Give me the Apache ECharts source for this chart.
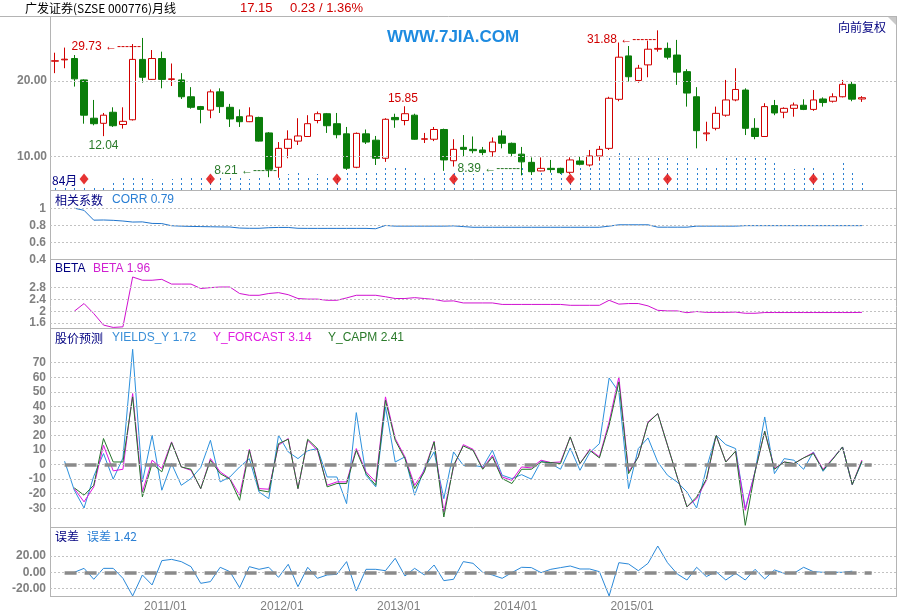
<!DOCTYPE html>
<html><head><meta charset="utf-8">
<script src="https://cdn.jsdelivr.net/npm/echarts@6/dist/echarts.min.js"></script>
<style>html,body{margin:0;padding:0;background:#fff}#c{width:900px;height:614px}</style>
</head><body><div id="c"></div>
<script>
// ---------------- DATA ----------------
const CATEGORIES = [
 '2010/02','2010/03','2010/04','2010/05','2010/06','2010/07','2010/08','2010/09','2010/10','2010/11','2010/12',
 '2011/01','2011/02','2011/03','2011/04','2011/05','2011/06','2011/07','2011/08','2011/09','2011/10','2011/11','2011/12',
 '2012/01','2012/02','2012/03','2012/04','2012/05','2012/06','2012/07','2012/08','2012/09','2012/10','2012/11','2012/12',
 '2013/01','2013/02','2013/03','2013/04','2013/05','2013/06','2013/07','2013/08','2013/09','2013/10','2013/11','2013/12',
 '2014/01','2014/02','2014/03','2014/04','2014/05','2014/06','2014/07','2014/08','2014/09','2014/10','2014/11','2014/12',
 '2015/01','2015/02','2015/03','2015/04','2015/05','2015/06','2015/07','2015/08','2015/09','2015/10','2015/11','2015/12',
 '2016/01','2016/02','2016/03','2016/04','2016/05','2016/06','2016/07','2016/08','2016/09','2016/10','2016/11','2016/12',
 '2017/01','2017/02','2017/03','2017/04'
];
const X_TICK_LABELS = ['2011/01','2012/01','2013/01','2014/01','2015/01'];

// monthly candles: [open, close, low, high]
const CANDLES = [
 [24.0,24.1,21.5,25.95],[24.3,24.45,22.5,27.2],[24.6,20.4,19.0,25.4],[20.2,14.6,13.5,20.3],
 [14.2,13.5,13.3,16.8],[13.55,14.6,12.04,14.9],[15.0,13.25,13.1,15.7],[13.4,13.8,12.9,15.7],
 [14.0,24.4,13.9,28.1],[24.4,20.7,19.7,29.73],[20.3,24.6,20.2,26.6],[24.6,20.3,18.7,26.2],
 [20.3,20.4,19.1,23.5],[20.2,17.3,16.95,21.5],[17.3,15.7,15.5,18.9],[15.8,15.4,13.55,15.9],
 [15.3,18.1,14.2,18.5],[18.1,15.8,14.9,18.7],[15.7,14.1,13.1,16.2],[14.4,13.75,13.1,15.4],
 [13.75,14.5,13.7,15.7],[14.3,11.5,11.45,14.4],[12.4,8.87,8.25,12.5],[9.04,10.76,8.21,11.4],
 [10.76,11.7,9.82,12.7],[11.5,12.06,11.1,14.2],[12.0,13.5,11.95,14.6],[13.9,14.8,13.55,15.1],
 [14.8,13.25,12.4,14.9],[13.5,12.2,11.8,14.9],[12.3,8.96,8.82,13.1],[9.04,12.35,8.96,12.45],
 [12.3,11.4,11.2,12.8],[11.6,9.82,9.23,12.06],[9.82,14.06,9.5,14.2],[14.3,14.0,13.0,14.8],
 [13.9,14.8,13.3,15.85],[14.6,11.7,11.65,14.8],[11.7,11.75,11.3,12.4],[11.7,12.8,11.5,13.1],
 [12.8,9.67,8.75,12.9],[9.6,10.66,9.1,11.7],[10.86,10.66,9.97,12.16],[10.66,10.53,10.28,12.0],
 [10.6,10.35,10.1,10.9],[10.43,11.4,9.97,11.9],[12.06,11.27,10.76,12.7],[11.27,10.28,10.03,11.35],
 [10.2,9.5,8.39,10.9],[9.46,8.68,8.42,9.9],[8.74,8.95,8.7,9.9],[8.95,8.85,8.6,9.67],
 [8.95,8.6,8.5,9.0],[8.63,9.67,8.5,9.9],[9.58,9.29,9.2,9.95],[9.23,10.03,9.1,10.6],
 [10.03,10.66,9.6,11.0],[10.76,17.06,10.6,17.3],[16.9,24.9,16.6,28.5],[25.2,20.8,19.9,27.6],
 [20.1,22.5,19.7,23.2],[23.2,26.8,20.7,29.0],[26.8,27.0,26.2,31.88],[27.0,24.9,24.4,28.5],
 [25.4,21.7,19.3,29.2],[21.8,17.9,15.8,22.3],[17.3,12.66,10.76,18.9],[12.3,12.4,11.5,13.75],
 [12.94,14.85,12.7,15.8],[14.6,16.8,14.4,20.2],[16.8,18.5,16.6,22.5],[18.4,12.94,12.16,18.7],
 [12.94,12.0,11.7,14.2],[12.0,15.8,11.95,16.3],[15.95,14.9,14.6,16.8],[15.0,15.55,14.2,15.7],
 [15.55,16.03,14.4,16.4],[16.0,15.4,15.3,16.9],[15.4,16.8,15.2,18.4],[16.95,16.4,15.8,17.2],
 [16.6,17.3,16.4,17.86],[17.3,19.4,17.2,20.2],[19.4,16.92,16.6,19.9],[16.95,17.15,16.5,17.4]
];
const PRICE_TICKS = [20, 10];

// volume (relative units)
const VOLUME = [4,5,4,5,5,5,8,12,14,13,11,9,11,12,13,12,13,14,13,12,11,13,10,14,16,17,15,16,14,13,
 18,20,18,17,25,24,22,20,14,18,17,17,18,16,17,17,19,19,25,17,20,19,18,15,25,25,32,32,39,33,
 33,33,33,32,30,33,25,24,23,33,33,33,33,32,27,20,21,22,23,18,18,27,19,10];

// signal markers (month indices)
const SIGNAL_IDX = [3,16,29,41,53,63,78];

// high / low annotations
const NOTE_IDX  = [9, 5, 23, 36, 48, 62];
const NOTE_VAL  = [29.73, 12.04, 8.21, 15.85, 8.39, 31.88];
const NOTE_KIND = ['high','low','low','high','low','high'];

const CORR = [null,null,1.0,0.975,0.86,0.862,0.858,0.85,0.838,0.84,0.822,0.82,0.795,0.79,0.787,0.785,0.783,0.781,0.78,0.768,
 0.765,0.765,0.772,0.775,0.775,0.765,0.764,0.764,0.764,0.764,0.764,0.764,0.764,0.76,0.798,0.79,0.79,0.79,0.79,0.79,
 0.79,0.793,0.785,0.777,0.777,0.777,0.777,0.777,0.777,0.777,0.777,0.777,0.777,0.777,0.777,0.777,0.777,0.79,0.806,0.806,
 0.806,0.806,0.778,0.778,0.778,0.778,0.79,0.79,0.79,0.79,0.79,0.796,0.796,0.796,0.796,0.796,0.796,0.796,0.796,0.796,
 0.796,0.796,0.796,0.796];
const CORR_TICKS = [1, 0.8, 0.6, 0.4];

const BETA = [null,null,2.0,2.26,1.92,1.53,1.45,1.47,3.16,3.05,3.05,3.08,2.92,2.92,2.92,2.77,2.8,2.82,2.82,2.6,
 2.54,2.54,2.6,2.63,2.56,2.43,2.41,2.41,2.37,2.37,2.45,2.54,2.54,2.54,2.49,2.43,2.43,2.46,2.43,2.40,
 2.34,2.35,2.28,2.28,2.28,2.28,2.23,2.23,2.23,2.23,2.23,2.23,2.23,2.2,2.2,2.2,2.2,2.37,2.24,2.26,
 2.26,2.18,2.03,2.01,2.01,1.95,1.99,1.96,1.96,1.96,1.97,1.93,1.93,1.955,1.955,1.955,1.955,1.955,1.955,1.955,
 1.955,1.955,1.955,1.96];
const BETA_TICKS = [2.8, 2.4, 2, 1.6];

const YIELDS_Y = [null,2.3,-17.6,-29.8,-8,7.6,-10,4.5,79.2,-11.9,20.1,-17.6,0.7,-14.2,-9.6,-2,16.7,-11.9,-8.5,-1.6,
 4.1,-18.8,-23.4,20.1,8.7,4.1,9.5,11,-8.5,-8.5,-26.8,35.7,-7.3,-15.3,39.6,1.8,5.3,-21,-2.7,8.7,
 -23.4,8.7,-0.5,-0.5,-1.6,9.8,-7.3,-9.6,-6.9,-10,2.3,0.7,-3.2,11.4,-3.9,8.2,14.4,59.5,49.9,-16.5,
 11,18.3,1.8,-7.3,-12,-18.8,-29.8,-2.7,20.1,13.7,11,-30.2,-5,32.7,-6.2,4.1,3,-3.2,8.7,-4.6,
 4.1,12.1,-13.7,1.72];
const Y_FORCAST = [null,null,-16.5,-25.6,-15.3,13.3,-4.3,-3.2,48.8,-18.8,3,-2.7,15.6,-1.6,-3.9,-16.5,4.1,-5,-9.6,-21,
 10.5,-16.5,-16.9,13.3,17.9,-16.5,16.7,9.8,-14.2,-11.9,-11.9,11,-5,-11.9,46.5,17.9,5.3,-14.2,-3.9,16,
 -32.5,-1.6,13.7,10.5,-2.7,6.4,-8.5,-10.8,-1.6,-2.3,3,1.4,1.8,19,0.7,10.5,5.3,29.3,60.2,-5,
 5.3,29.3,35,13.3,-8.5,-29,-23.4,-10.8,20.1,1.8,9.2,-31.4,-5,22.9,-2.7,1.8,0.7,4.6,8.2,-3.2,
 4.1,12.1,-13.7,3.14];
const Y_CAPM = [null,null,-16,-21,-14.2,17.9,1.8,1.8,46.5,-22.2,0.7,-5,15.1,-1.6,-3.2,-16.5,3,-6.2,-10,-24.5,
 9.8,-17.6,-18.8,14.4,17.4,-16.5,17.4,11,-15.3,-13,-13,9.8,-6.2,-14.2,44.2,16.7,4.1,-16.5,-5,15.6,
 -36,-0.5,12.8,9.8,-3.2,5.3,-9.6,-13,-3.2,-3.2,1.8,1.4,0.7,19,0.7,9.8,4.6,27,56.8,-6.2,
 5.3,28.8,35,13.3,-8.5,-29,-22.2,-10,20.1,1.8,9.2,-41.7,-5,22.9,-3.2,1.8,0.7,4.6,7.6,-3.9,
 3.7,12.1,-13.7,2.41];
const FORECAST_TICKS = [70,60,50,40,30,20,10,0,-10,-20,-30];

const ERR = [null,null,0,4.9,-8.6,4.9,4.9,-7.4,-29.2,-3.3,-15.6,14.4,16,13.2,7,-13.6,-11.5,6.2,0.8,-19,
 7,3.7,6.2,-6.2,9.9,-17.7,6.2,-7.4,-3.3,-2.5,13.2,-23,3.7,3.7,2,17.3,-4.5,4.9,-3.3,9,
 -10.3,-8.6,13.2,11.1,0,-3.3,-7.4,-0.4,6.2,5.8,-0.4,3.7,5.8,7.8,4.1,4.1,0.8,-29.2,11.9,10.3,
 2,11.1,32.5,11.9,-2,-9.5,6.2,-5.3,0.8,-9.5,-1.2,-9.5,3.7,-8.2,2.9,-1.2,-1.2,6.2,0.8,0,
 0,0,1.42];
const ERR_TICKS = [20, 0, -20];

// zero reference line spans these month indices
const ZERO_FROM = 1, ZERO_TO = 84;

// ---------------- STYLE / LAYOUT ----------------
const L = 50, W = 846;
const NUM = '"Liberation Sans", Arial, sans-serif';
const CJK = '"Noto Sans CJK SC", sans-serif';
const GRIDC = '#c2c2c2';
const AXC = '#808080';
const BORDER = '#b4b4b4';
const NAVY = '#000080';
const RED = '#d00000';
const GREEN = '#0a7d0a';
const DIAMOND_LEVEL = 11;
const NOTE_STYLE = [
 {pos:'left', dist:1, off:[0,9], arrow:true},
 {pos:'bottom', dist:3, off:[0,0], arrow:false},
 {pos:'left', dist:1, off:[0,-7.5], arrow:true},
 {pos:'top', dist:1, off:[-2,0], arrow:false},
 {pos:'left', dist:1, off:[0,-7], arrow:true},
 {pos:'left', dist:1, off:[0,9.5], arrow:true}
];

function near(list, v){ return list.some(x => Math.abs(x - v) < 1e-6); }
function gridLineData(vals){ return vals.map(v => ({yAxis: v})); }
const gridLineStyle = {color: GRIDC, type: [2,2], width: 1};
const zeroStyle = {color: '#8a8a8a', type: [12,8], width: 3.5};

const chart = echarts.init(document.getElementById('c'), null, {renderer: 'canvas'});

const grids = [
 {left:L, width:W, top:16.7, height:173.3},
 {left:L, width:W, top:16.7, height:173.3},
 {left:L, width:W, top:191.1, height:68.4},
 {left:L, width:W, top:259.6, height:75.2},
 {left:L, width:W, top:328.3, height:209.1},
 {left:L, width:W, top:527.3, height:69.3}
];

const xAxes = grids.map((g, k) => ({
  type: 'category', gridIndex: k, data: CATEGORIES, boundaryGap: true,
  axisLine: {show: false}, axisTick: {show: false}, splitLine: {show: false},
  axisLabel: k === 5 ? {
    show: true, interval: 0, margin: 4, color: AXC, fontSize: 12, fontFamily: NUM,
    padding: [0,0,0,7],
    formatter: v => X_TICK_LABELS.includes(v) ? v : ''
  } : {show: false}
}));

function valAxis(k, min, max, interval, ticks, fmt){
  return {
    type: 'value', gridIndex: k, min, max, interval,
    axisLine: {show: false}, axisTick: {show: false}, splitLine: {show: false},
    axisLabel: {show: true, margin: 4, color: AXC, fontSize: 12, fontWeight: 'bold', fontFamily: NUM,
      formatter: v => near(ticks, v) ? fmt(v) : ''}
  };
}

const yAxes = [
 {type: 'log', logBase: 10, gridIndex: 0, min: 7.333, max: 36.15,
  axisLine: {show:false}, axisTick: {show:false}, splitLine: {show:false}, axisLabel: {show:false}},
 {type: 'value', gridIndex: 1, min: 0, max: 173.3, show: false},
 valAxis(2, 0.4, 1.2, 0.2, CORR_TICKS, v => String(+v.toFixed(2))),
 valAxis(3, 1.2, 3.75, 0.4, BETA_TICKS, v => String(+v.toFixed(2))),
 valAxis(4, -50, 93.6, 10, FORECAST_TICKS, v => String(Math.round(v))),
 valAxis(5, -30, 55.6, 10, ERR_TICKS, v => v.toFixed(2))
];

const notes = NOTE_IDX.map((i, k) => {
  const st = NOTE_STYLE[k];
  const txt = NOTE_VAL[k].toFixed(2) + (st.arrow ? ' ←------' : '');
  return {
    coord: [i, NOTE_VAL[k]], value: NOTE_VAL[k],
    label: {show: true, position: st.pos, distance: st.dist, offset: st.off,
      color: NOTE_KIND[k] === 'high' ? RED : '#2a7a2a', fontSize: 12, fontFamily: NUM,
      formatter: () => txt}
  };
});

const series = [
 {
  type: 'custom', name: 'VOL', xAxisIndex: 1, yAxisIndex: 1, z: 1, silent: true,
  data: VOLUME.map((v, i) => [i, v]),
  renderItem: (params, api) => {
    const top = api.coord([api.value(0), api.value(1)]);
    const base = api.coord([api.value(0), 0]);
    const x = Math.round(base[0]) + 0.5;
    return {type: 'line', shape: {x1: x, y1: base[1], x2: x, y2: top[1]},
      style: {stroke: '#2b80d2', lineWidth: 1, lineDash: [2,3]}};
  }
 },
 {
  type: 'scatter', xAxisIndex: 1, yAxisIndex: 1, z: 2, silent: true,
  symbol: 'diamond', symbolSize: [9, 11], itemStyle: {color: '#e00000'},
  data: SIGNAL_IDX.map(i => [i, DIAMOND_LEVEL])
 },
 {
  type: 'candlestick', xAxisIndex: 0, yAxisIndex: 0, z: 3, barWidth: 7, silent: true,
  data: CANDLES,
  itemStyle: {color: '#ffffff', color0: GREEN, borderColor: RED, borderColor0: GREEN, borderWidth: 1},
  markLine: {silent: true, symbol: 'none', animation: false, lineStyle: gridLineStyle,
    label: {show: true, position: 'start', distance: 3, color: AXC, fontWeight: 'bold', fontSize: 12, fontFamily: NUM,
      formatter: p => Number(p.value).toFixed(2)},
    emphasis: {disabled: true},
    data: gridLineData(PRICE_TICKS)},
  markPoint: {symbol: 'circle', symbolSize: 1, itemStyle: {color: 'rgba(0,0,0,0)'}, silent: true, animation: false,
    data: notes}
 },
 {
  type: 'line', name: 'CORR', xAxisIndex: 2, yAxisIndex: 2, data: CORR, showSymbol: false, silent: true,
  lineStyle: {color: '#1f74cc', width: 1}, itemStyle: {color: '#1f74cc'},
  markLine: {silent: true, symbol: 'none', animation: false, lineStyle: gridLineStyle, label: {show: false},
    emphasis: {disabled: true}, data: gridLineData([1, 0.8, 0.6])}
 },
 {
  type: 'line', name: 'BETA', xAxisIndex: 3, yAxisIndex: 3, data: BETA, showSymbol: false, silent: true,
  lineStyle: {color: '#d010d0', width: 1}, itemStyle: {color: '#d010d0'},
  markLine: {silent: true, symbol: 'none', animation: false, lineStyle: gridLineStyle, label: {show: false},
    emphasis: {disabled: true}, data: gridLineData(BETA_TICKS)}
 },
 {
  type: 'line', name: 'YIELDS_Y', xAxisIndex: 4, yAxisIndex: 4, data: YIELDS_Y, showSymbol: false, silent: true,
  lineStyle: {color: '#2b90dd', width: 1}, itemStyle: {color: '#2b90dd'},
  markLine: {silent: true, symbol: 'none', animation: false, lineStyle: gridLineStyle, label: {show: false},
    emphasis: {disabled: true}, data: gridLineData(FORECAST_TICKS)}
 },
 {
  type: 'line', name: 'Y_FORCAST', xAxisIndex: 4, yAxisIndex: 4, data: Y_FORCAST, showSymbol: false, silent: true,
  lineStyle: {color: '#e010e0', width: 1}, itemStyle: {color: '#e010e0'}
 },
 {
  type: 'line', name: 'Y_CAPM', xAxisIndex: 4, yAxisIndex: 4, data: Y_CAPM, showSymbol: false, silent: true,
  lineStyle: {color: '#24752a', width: 1}, itemStyle: {color: '#24752a'},
  markLine: {silent: true, symbol: 'none', animation: false, lineStyle: zeroStyle, label: {show: false},
    emphasis: {disabled: true}, data: [[{coord: [ZERO_FROM, 0]}, {coord: [ZERO_TO, 0]}]]}
 },
 {
  type: 'line', name: 'ERR', xAxisIndex: 5, yAxisIndex: 5, data: ERR, showSymbol: false, silent: true,
  lineStyle: {color: '#2a88d8', width: 1}, itemStyle: {color: '#2a88d8'},
  markLine: {silent: true, symbol: 'none', animation: false, label: {show: false}, emphasis: {disabled: true},
    data: gridLineData(ERR_TICKS).map(d => Object.assign(d, {lineStyle: gridLineStyle}))
      .concat([[{coord: [ZERO_FROM, 0], lineStyle: zeroStyle}, {coord: [ZERO_TO, 0]}]])}
 }
];

function hline(y, x1, x2){ return {type:'line', silent:true, shape:{x1, y1:y, x2, y2:y}, style:{stroke:BORDER, lineWidth:1}}; }
function vline(x, y1, y2){ return {type:'line', silent:true, shape:{x1:x, y1, x2:x, y2}, style:{stroke:BORDER, lineWidth:1}}; }
function txt(x, y, text, fill, font){ return {type:'text', silent:true, x, y, style:{text, fill, font, verticalAlign:'middle', align:'left'}}; }

const graphic = [
 hline(16.5, 0, 897), vline(50.5, 16.5, 596.5), vline(896.5, 16.5, 596.5),
 hline(190.5, 50, 897), hline(259.5, 50, 897), hline(328.5, 50, 897), hline(527.5, 50, 897), hline(596.5, 50, 897),
 {type:'polygon', silent:true, shape:{points:[[888,17],[896,17],[896,25]]}, style:{fill:'#c8c8c8'}},
 txt(25, 8, '广发证券(SZSE 000776)月线', '#000000', '12px ' + CJK),
 txt(240, 8, '17.15', RED, '13px ' + NUM),
 txt(290, 8, '0.23 / 1.36%', RED, '13px ' + NUM),
 txt(387, 37, 'WWW.7JIA.COM', '#1e8be0', 'bold 17px ' + NUM),
 txt(838, 27, '向前复权', NAVY, '12px ' + CJK),
 txt(52, 180, '84月', NAVY, '12px ' + CJK),
 txt(55, 200, '相关系数', NAVY, '12px ' + CJK),
 txt(112, 200, 'CORR 0.79', '#2a7fd4', '12px ' + NUM),
 txt(55, 268.5, 'BETA', NAVY, '12px ' + NUM),
 txt(93, 268.5, 'BETA 1.96', '#d020d0', '12px ' + NUM),
 txt(55, 338, '股价预测', NAVY, '12px ' + CJK),
 txt(112, 338, 'YIELDS_Y 1.72', '#3a8fd8', '12px ' + NUM),
 txt(213, 338, 'Y_FORCAST 3.14', '#e020e0', '12px ' + NUM),
 txt(328, 338, 'Y_CAPM 2.41', '#2a7a2a', '12px ' + NUM),
 txt(55, 536.5, '误差', NAVY, '12px ' + CJK),
 txt(87, 536.5, '误差 1.42', '#2a7fd4', '12px ' + CJK)
];

chart.setOption({
  animation: false,
  backgroundColor: '#ffffff',
  grid: grids,
  xAxis: xAxes,
  yAxis: yAxes,
  series,
  graphic
});
</script></body></html>
